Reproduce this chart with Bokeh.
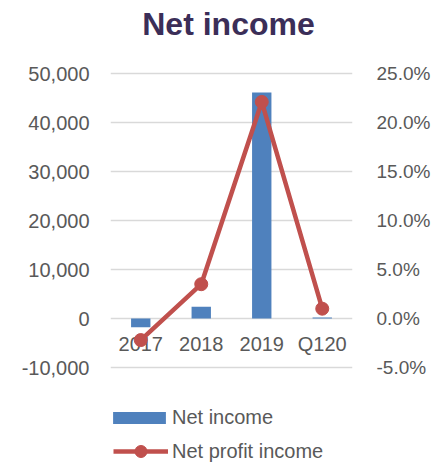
from bokeh.plotting import figure
from bokeh.models import (ColumnDataSource, FactorRange, Range1d, LinearAxis, FixedTicker,
                          NumeralTickFormatter, Legend, LegendItem, Label)
from bokeh.core.properties import value
from bokeh.embed import file_html
from bokeh.resources import INLINE

title_text = "Net income"
categories = ["2017", "2018", "2019", "Q120"]
net_income = [-1800, 2400, 46100, 200]
net_profit_pct = [-0.022, 0.035, 0.221, 0.010]
left_ticks = [-10000, 0, 10000, 20000, 30000, 40000, 50000]
right_ticks = [-0.05, 0.0, 0.05, 0.10, 0.15, 0.20, 0.25]

FONT = "Liberation Sans"
GREY = "#595959"

W, H = 433, 463
LEFT, RIGHT = 110, 73
GRID_TOP, GRID_BOTTOM = 73.0, 367.0   # pixel rows of the top and bottom gridlines
grid_px = GRID_BOTTOM - GRID_TOP
ext_top = GRID_TOP / grid_px
ext_bot = (H - GRID_BOTTOM) / grid_px
l_lo, l_hi = left_ticks[0], left_ticks[-1]
r_lo, r_hi = right_ticks[0], right_ticks[-1]
l_span, r_span = l_hi - l_lo, r_hi - r_lo

src = ColumnDataSource(dict(cat=categories, ni=net_income, pct=net_profit_pct,
                            zero=[0] * len(categories)))

p = figure(width=W, height=H, output_backend="svg", toolbar_location=None,
           x_range=FactorRange(*categories, range_padding=0),
           y_range=Range1d(l_lo - ext_bot * l_span, l_hi + ext_top * l_span),
           min_border_left=LEFT, min_border_right=RIGHT, min_border_top=0, min_border_bottom=0)
p.outline_line_color = None
p.background_fill_color = None
p.border_fill_color = "white"

p.xaxis.visible = False
p.xgrid.visible = False
p.ygrid.grid_line_color = "#d9d9d9"
p.ygrid.grid_line_width = 1.5
p.ygrid.ticker = FixedTicker(ticks=left_ticks)

ya = p.yaxis[0]
ya.ticker = FixedTicker(ticks=left_ticks)
ya.formatter = NumeralTickFormatter(format="0,0")
ya.axis_line_color = None
ya.major_tick_line_color = None
ya.minor_tick_line_color = None
ya.major_label_standoff = 15
ya.major_label_text_font = FONT
ya.major_label_text_font_size = "20px"
ya.major_label_text_color = GREY

p.extra_y_ranges = {"pct": Range1d(r_lo - ext_bot * r_span, r_hi + ext_top * r_span)}
ra = LinearAxis(y_range_name="pct", ticker=FixedTicker(ticks=right_ticks),
                formatter=NumeralTickFormatter(format="0.0%"))
ra.axis_line_color = None
ra.major_tick_line_color = None
ra.minor_tick_line_color = None
ra.major_label_standoff = 18
ra.major_label_text_font = FONT
ra.major_label_text_font_size = "19px"
ra.major_label_text_color = GREY
p.add_layout(ra, "right")

bars = p.vbar(x="cat", top="ni", bottom=0, width=0.32, source=src,
              fill_color="#4f81bd", line_color=None)

p.text(x="cat", y="zero", text="cat", source=src, text_align="center",
       text_baseline="middle", y_offset=25, text_font=value(FONT),
       text_font_size="20px", text_color=GREY)

ln = p.line(x="cat", y="pct", source=src, y_range_name="pct",
            line_color="#c0504d", line_width=4.5)
mk = p.scatter(x="cat", y="pct", source=src, y_range_name="pct", size=13,
               fill_color="#c0504d", line_color="#c0504d")

title = Label(x=118, y=H - 23, x_units="screen", y_units="screen", text=title_text,
              text_align="center", text_baseline="middle", text_font=FONT,
              text_font_size="32px", text_font_style="bold", text_color="#3b2e58")
p.add_layout(title, "center")

common = dict(orientation="vertical", padding=0, margin=0,
              label_text_font=FONT, label_text_font_size="20px",
              label_text_color=GREY, border_line_color=None,
              background_fill_alpha=0)
legend_bar = Legend(items=[LegendItem(label="Net income", renderers=[bars])],
                    location=(-4, 34), glyph_width=66, glyph_height=15,
                    label_height=24, label_standoff=0, **common)
legend_line = Legend(items=[LegendItem(label="Net profit income", renderers=[ln, mk])],
                     location=(3, -3), glyph_width=55, glyph_height=30,
                     label_height=30, label_standoff=4, **common)
p.add_layout(legend_bar, "center")
p.add_layout(legend_line, "center")

open("out.html", "w").write(file_html(p, INLINE))
